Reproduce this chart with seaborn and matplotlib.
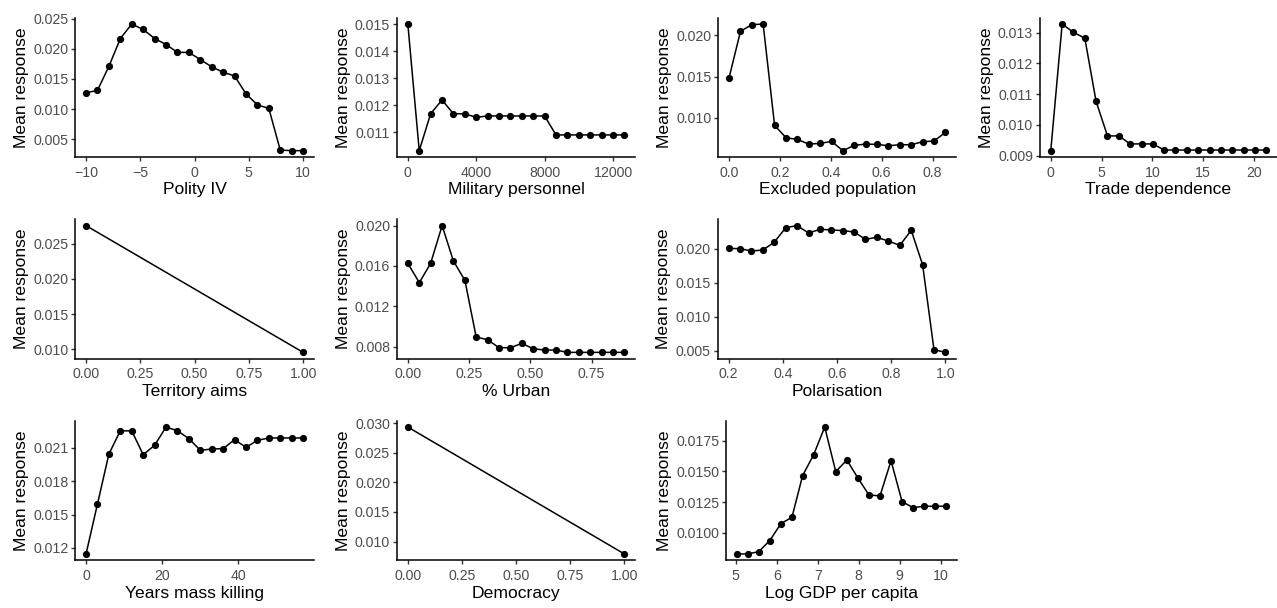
import matplotlib
matplotlib.use("Agg")
import matplotlib.pyplot as plt
import seaborn as sns
import pandas as pd

# Partial-dependence style curves: mean model response across each predictor
polity_x = [-10, -8.95, -7.89, -6.84, -5.79, -4.74, -3.68, -2.63, -1.58, -0.53,
            0.53, 1.58, 2.63, 3.68, 4.74, 5.79, 6.84, 7.89, 8.95, 10]
polity_y = [0.0127, 0.0131, 0.0171, 0.0217, 0.0241, 0.0232, 0.0217, 0.0207, 0.0194, 0.0194,
            0.0182, 0.0170, 0.0161, 0.0155, 0.0125, 0.0107, 0.0101, 0.0032, 0.0031, 0.0031]

military_x = [0, 667, 1333, 2000, 2667, 3333, 4000, 4667, 5333, 6000,
              6667, 7333, 8000, 8667, 9333, 10000, 10667, 11333, 12000, 12667]
military_y = [0.01500, 0.01033, 0.01169, 0.01220, 0.01169, 0.01169, 0.01156, 0.01161, 0.01161, 0.01161,
              0.01161, 0.01161, 0.01161, 0.01091, 0.01091, 0.01091, 0.01091, 0.01091, 0.01091, 0.01091]

excluded_x = [0, 0.045, 0.089, 0.134, 0.179, 0.224, 0.268, 0.313, 0.358, 0.403,
              0.447, 0.492, 0.537, 0.582, 0.626, 0.671, 0.716, 0.761, 0.805, 0.85]
excluded_y = [0.01482, 0.02049, 0.02130, 0.02138, 0.00907, 0.00757, 0.00737, 0.00680, 0.00688, 0.00713,
              0.00600, 0.00664, 0.00680, 0.00676, 0.00660, 0.00672, 0.00672, 0.00709, 0.00717, 0.00822]

trade_x = [0, 1.12, 2.23, 3.35, 4.46, 5.58, 6.70, 7.81, 8.93, 10.04,
           11.16, 12.27, 13.39, 14.51, 15.62, 16.74, 17.86, 18.97, 20.09, 21.2]
trade_y = [0.00916, 0.01328, 0.01301, 0.01282, 0.01076, 0.00964, 0.00964, 0.00938, 0.00938, 0.00938,
           0.00918, 0.00918, 0.00918, 0.00918, 0.00918, 0.00918, 0.00918, 0.00918, 0.00918, 0.00918]

territory_x = [0, 1]
territory_y = [0.02756, 0.00957]

urban_x = [0, 0.047, 0.093, 0.140, 0.186, 0.233, 0.279, 0.326, 0.372, 0.419,
           0.465, 0.512, 0.558, 0.605, 0.651, 0.698, 0.744, 0.791, 0.837, 0.884]
urban_y = [0.01626, 0.01435, 0.01626, 0.02000, 0.01650, 0.01458, 0.00896, 0.00869, 0.00790, 0.00790,
           0.00833, 0.00780, 0.00767, 0.00767, 0.00744, 0.00744, 0.00744, 0.00744, 0.00744, 0.00744]

polar_x = [0.2, 0.242, 0.284, 0.326, 0.368, 0.411, 0.453, 0.495, 0.537, 0.579,
           0.621, 0.663, 0.705, 0.747, 0.789, 0.832, 0.874, 0.916, 0.958, 1.0]
polar_y = [0.02005, 0.02000, 0.01966, 0.01980, 0.02093, 0.02309, 0.02338, 0.02230, 0.02284, 0.02275,
           0.02265, 0.02245, 0.02137, 0.02167, 0.02113, 0.02049, 0.02270, 0.01765, 0.00520, 0.00480]

years_x = [0, 3, 6, 9, 12, 15, 18, 21, 24, 27, 30, 33, 36, 39, 42, 45, 48, 51, 54, 57]
years_y = [0.01146, 0.01595, 0.02043, 0.02252, 0.02250, 0.02037, 0.02121, 0.02285, 0.02252, 0.02181,
           0.02076, 0.02088, 0.02091, 0.02172, 0.02103, 0.02166, 0.02187, 0.02187, 0.02187, 0.02187]

democracy_x = [0, 1]
democracy_y = [0.02932, 0.00792]

gdp_x = [5.02, 5.29, 5.56, 5.83, 6.10, 6.37, 6.63, 6.90, 7.17, 7.44,
         7.71, 7.98, 8.25, 8.52, 8.79, 9.06, 9.33, 9.60, 9.87, 10.14]
gdp_y = [0.00829, 0.00829, 0.00848, 0.00938, 0.01076, 0.01127, 0.01466, 0.01636, 0.01861, 0.01498,
         0.01593, 0.01447, 0.01309, 0.01301, 0.01587, 0.01254, 0.01206, 0.01217, 0.01217, 0.01217]

# (title, x, y, x ticks, x tick labels, y ticks, y tick labels, pixel box l, t, r, b)
panels = [
    ("Polity IV", polity_x, polity_y,
     [-10, -5, 0, 5, 10], ["\u221210", "\u22125", "0", "5", "10"],
     [0.005, 0.010, 0.015, 0.020, 0.025], None, (75.2, 17.7, 314, 157)),
    ("Military personnel", military_x, military_y,
     [0, 4000, 8000, 12000], ["0", "4000", "8000", "12000"],
     [0.011, 0.012, 0.013, 0.014, 0.015], None, (397, 17.7, 635.2, 157)),
    ("Excluded population", excluded_x, excluded_y,
     [0, 0.2, 0.4, 0.6, 0.8], ["0.0", "0.2", "0.4", "0.6", "0.8"],
     [0.010, 0.015, 0.020], None, (718.2, 17.7, 956.2, 157)),
    ("Trade dependence", trade_x, trade_y,
     [0, 5, 10, 15, 20], ["0", "5", "10", "15", "20"],
     [0.009, 0.010, 0.011, 0.012, 0.013], None, (1040, 17.7, 1277, 157)),
    ("Territory aims", territory_x, territory_y,
     [0, 0.25, 0.5, 0.75, 1.0], ["0.00", "0.25", "0.50", "0.75", "1.00"],
     [0.010, 0.015, 0.020, 0.025], None, (75.2, 219.3, 314, 358.7)),
    ("% Urban", urban_x, urban_y,
     [0, 0.25, 0.5, 0.75], ["0.00", "0.25", "0.50", "0.75"],
     [0.008, 0.012, 0.016, 0.020], None, (397, 219.3, 635.2, 358.7)),
    ("Polarisation", polar_x, polar_y,
     [0.2, 0.4, 0.6, 0.8, 1.0], ["0.2", "0.4", "0.6", "0.8", "1.0"],
     [0.005, 0.010, 0.015, 0.020], None, (717.8, 219.3, 956.2, 358.7)),
    ("Years mass killing", years_x, years_y,
     [0, 20, 40], ["0", "20", "40"],
     [0.012, 0.015, 0.018, 0.021], None, (75.2, 420.7, 314, 560.3)),
    ("Democracy", democracy_x, democracy_y,
     [0, 0.25, 0.5, 0.75, 1.0], ["0.00", "0.25", "0.50", "0.75", "1.00"],
     [0.010, 0.015, 0.020, 0.025, 0.030], None, (397, 420.7, 635.2, 560.3)),
    ("Log GDP per capita", gdp_x, gdp_y,
     [5, 6, 7, 8, 9, 10], ["5", "6", "7", "8", "9", "10"],
     [0.0100, 0.0125, 0.0150, 0.0175], ["0.0100", "0.0125", "0.0150", "0.0175"],
     (726.2, 420.7, 956.8, 560.3)),
]

sns.set_theme(style="ticks")
plt.rcParams["font.family"] = ["Liberation Sans", "DejaVu Sans"]

W, H = 1277, 608
fig = plt.figure(figsize=(W / 100, H / 100), dpi=100)

for title, xs, ys, xt, xtl, yt, ytl, (l, t, r, b) in panels:
    ax = fig.add_axes([l / W, 1 - b / H, (r - l) / W, (b - t) / H])
    df = pd.DataFrame({"x": xs, "y": ys})
    sns.lineplot(data=df, x="x", y="y", ax=ax, color="black", linewidth=1.1,
                 marker="o", markersize=5.2, markeredgewidth=0, markerfacecolor="black")
    ax.set_xticks(xt)
    ax.set_xticklabels(xtl)
    ax.set_yticks(yt)
    if ytl is None:
        ytl = [f"{v:.3f}" for v in yt]
    ax.set_yticklabels(ytl)
    ax.set_xlabel(title, fontsize=12.6, color="black", labelpad=2.0)
    ax.set_ylabel("Mean response", fontsize=12.6, color="black", labelpad=3.0)
    ax.tick_params(axis="both", labelsize=10.2, labelcolor="#4D4D4D", color="#333333",
                   length=3, width=1.0)
    ax.tick_params(axis="x", pad=3.2)
    ax.tick_params(axis="y", pad=2.0)
    sns.despine(ax=ax)
    for side in ("left", "bottom"):
        ax.spines[side].set_linewidth(1.1)
        ax.spines[side].set_color("black")
    ax.set_facecolor("white")

fig.savefig("out.png", dpi=100, facecolor="white")
